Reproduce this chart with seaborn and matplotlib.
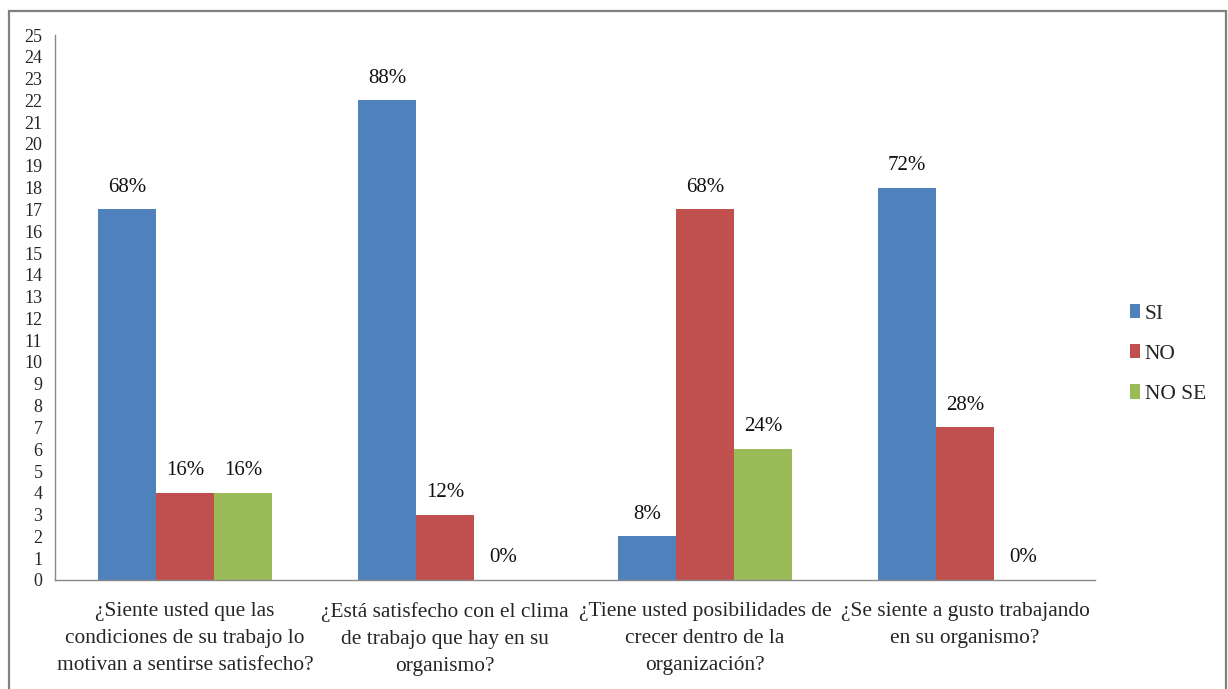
import matplotlib
matplotlib.use("Agg")
import matplotlib.pyplot as plt
import seaborn as sns
import pandas as pd
from matplotlib.patches import Rectangle

categories = [
    "¿Siente usted que las\ncondiciones de su trabajo lo\nmotivan a sentirse satisfecho?",
    "¿Está satisfecho con el clima\nde trabajo que hay en su\norganismo?",
    "¿Tiene usted posibilidades de\ncrecer dentro de la\norganización?",
    "¿Se siente a gusto trabajando\nen su organismo?",
]
series = ["SI", "NO", "NO SE"]
si_values = [17, 22, 2, 18]
no_values = [4, 3, 17, 7]
nose_values = [4, 0, 6, 0]
si_pct = ["68%", "88%", "8%", "72%"]
no_pct = ["16%", "12%", "68%", "28%"]
nose_pct = ["16%", "0%", "24%", "0%"]
y_ticks = list(range(0, 26))

colors = ["#4F81BD", "#C0504D", "#9BBB59"]

rows = []
for cat, a, b, c in zip(categories, si_values, no_values, nose_values):
    rows.append({"pregunta": cat, "respuesta": "SI", "valor": a})
    rows.append({"pregunta": cat, "respuesta": "NO", "valor": b})
    rows.append({"pregunta": cat, "respuesta": "NO SE", "valor": c})
df = pd.DataFrame(rows)

sns.set_theme(style="white")
plt.rcParams["font.family"] = ["Liberation Serif", "DejaVu Serif"]

fig = plt.figure(figsize=(12.28, 6.89), dpi=100)
ax = fig.add_axes([55 / 1228, 1 - 580 / 689, (1095 - 55) / 1228, (580 - 35) / 689])

sns.barplot(data=df, x="pregunta", y="valor", hue="respuesta", hue_order=series,
            palette=colors, width=0.67, gap=0, saturation=1, ax=ax, legend=True,
            linewidth=0, edgecolor="none")

ax.set_ylim(0, 25)
ax.set_xlim(-0.5, 3.5)
ax.set_yticks(y_ticks)
ax.set_yticklabels([str(t) for t in y_ticks], fontsize=13)
ax.set_xlabel("")
ax.set_ylabel("")

# category ticks at the boundaries between groups, labels centred below groups
ax.set_xticks([-0.5, 0.5, 1.5, 2.5, 3.5])
ax.set_xticklabels([])
ax.set_xticks(range(len(categories)), minor=True)
ax.set_xticklabels(categories, minor=True, fontsize=15.4, linespacing=1.55)
ax.tick_params(axis="x", which="minor", length=0, pad=16)
ax.tick_params(axis="x", which="major", length=6, color="#888888", direction="out")
ax.tick_params(axis="y", length=5, color="#888888", direction="out", pad=4)

for s in ["top", "right"]:
    ax.spines[s].set_visible(False)
for s in ["left", "bottom"]:
    ax.spines[s].set_color("#888888")
    ax.spines[s].set_linewidth(1.0)

# percentage labels above each bar
for container, labels in zip(ax.containers, [si_pct, no_pct, nose_pct]):
    for bar, lab in zip(container, labels):
        x = bar.get_x() + bar.get_width() / 2
        ax.annotate(lab, (x, bar.get_height()), xytext=(0, 16),
                    textcoords="offset points", ha="center", va="center",
                    fontsize=15, color="#111111")

leg = ax.legend(loc="center left", bbox_to_anchor=(1.025, 0.415), frameon=False,
                fontsize=15.5, handlelength=0.5, handleheight=0.65,
                handletextpad=0.2, labelspacing=0.95, borderaxespad=0)

# outer frame of the chart area
fig.patches.append(Rectangle((9 / 1228, -0.05), (1226 - 9) / 1228, 1.05 - 11 / 689,
                             transform=fig.transFigure, fill=False,
                             edgecolor="#808080", linewidth=1.6))

fig.savefig("out.png", dpi=100)
